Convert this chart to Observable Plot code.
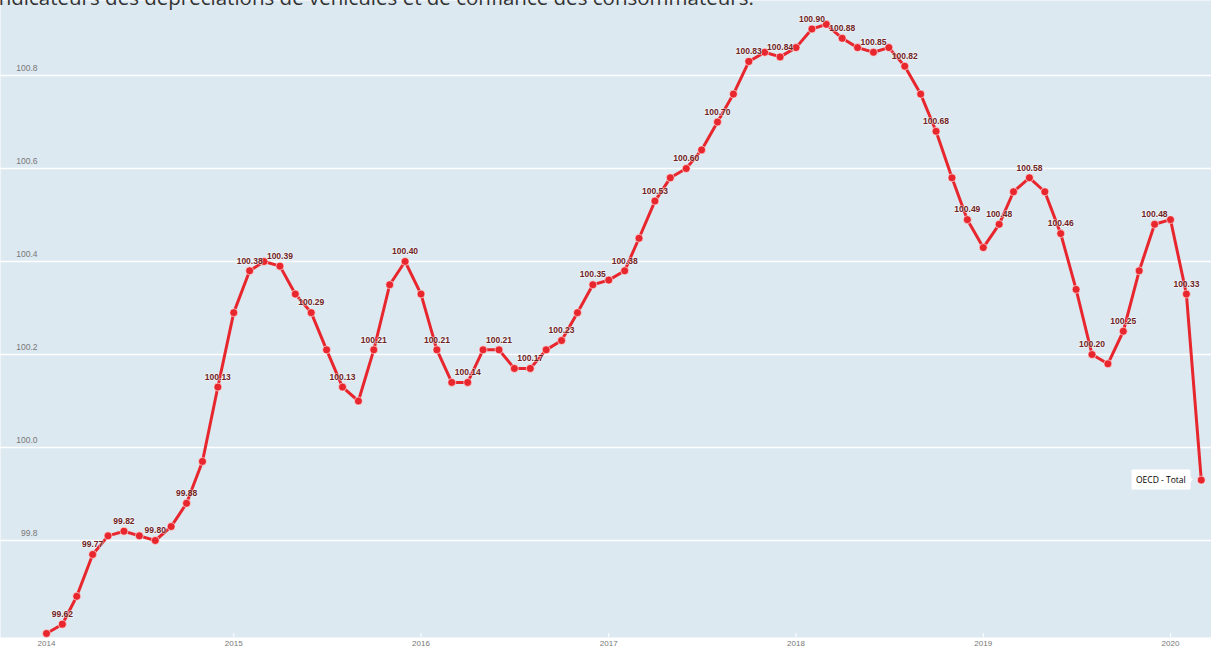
<!DOCTYPE html>
<html>
<head>
<meta charset="utf-8">
<script src="https://cdn.jsdelivr.net/npm/d3@7"></script>
<script src="https://cdn.jsdelivr.net/npm/@observablehq/plot@0.6"></script>
<style>
  html, body { margin: 0; padding: 0; background: #ffffff; overflow: hidden; }
  #wrap { position: relative; width: 1211px; height: 651px; }
  #title { position: absolute; left: -7px; top: -13px; font-family: "Open Sans", sans-serif; font-size: 20.5px; line-height: 20.5px; color: #333333; white-space: nowrap; z-index: 2; }
  #chart { position: absolute; left: 0; top: 0; }
</style>
</head>
<body>
<div id="wrap">
  <div id="title">Indicateurs des dépréciations de véhicules et de confiance des consommateurs.</div>
  <div id="chart"></div>
</div>
<script>
const seriesName = "OECD - Total";
const firstMonth = "2014-01-01";
const values = [
  99.60, 99.62, 99.68, 99.77, 99.81, 99.82, 99.81, 99.80, 99.83, 99.88, 99.97, 100.13,
  100.29, 100.38, 100.40, 100.39, 100.33, 100.29, 100.21, 100.13, 100.10, 100.21, 100.35, 100.40,
  100.33, 100.21, 100.14, 100.14, 100.21, 100.21, 100.17, 100.17, 100.21, 100.23, 100.29, 100.35,
  100.36, 100.38, 100.45, 100.53, 100.58, 100.60, 100.64, 100.70, 100.76, 100.83, 100.85, 100.84,
  100.86, 100.90, 100.91, 100.88, 100.86, 100.85, 100.86, 100.82, 100.76, 100.68, 100.58, 100.49,
  100.43, 100.48, 100.55, 100.58, 100.55, 100.46, 100.34, 100.20, 100.18, 100.25, 100.38, 100.48,
  100.49, 100.33, 99.93
];
const yTicks = [99.8, 100.0, 100.2, 100.4, 100.6, 100.8];
const xTickYears = ["2014", "2015", "2016", "2017", "2018", "2019", "2020"];

const start = new Date(firstMonth);
const data = values.map((v, i) => ({
  date: d3.utcMonth.offset(start, i),
  value: v,
  i
}));
const labelled = data.filter(d => d.i % 2 === 1);
const last = data[data.length - 1];
const yearDates = xTickYears.map(y => new Date(y + "-01-01"));

const red = "#e8262d";

const chart = Plot.plot({
  width: 1211,
  height: 651,
  marginTop: 0,
  marginLeft: 0,
  marginRight: 0,
  marginBottom: 14,
  style: { background: "#ffffff", fontFamily: "'Liberation Sans', Arial, sans-serif" },
  x: { type: "utc", domain: [yearDates[0], yearDates[yearDates.length - 1]], range: [46, 1170] },
  y: { domain: [99.8, 100.8], range: [540, 75] },
  marks: [
    Plot.frame({ fill: "#dde9f1", stroke: null }),
    Plot.gridY(yTicks, { stroke: "#ffffff", strokeOpacity: 1, strokeWidth: 1.5 }),
    Plot.axisY(yTicks, {
      anchor: "left", tickSize: 0, tickFormat: d3.format(".1f"),
      textAnchor: "end", dx: 46, dy: -7, fontSize: 8.5, fill: "#777777", label: null
    }),
    Plot.axisX(yearDates, {
      anchor: "bottom", tickSize: 0, tickPadding: 3, tickFormat: d3.utcFormat("%Y"),
      fontSize: 8, fill: "#777777", label: null,
      fontFamily: "'Liberation Sans Narrow', 'Liberation Sans', sans-serif"
    }),
    Plot.tickX(yearDates, { x: d => d, stroke: "#ffffff", strokeWidth: 1, insetTop: 633 }),
    Plot.line(data, { x: "date", y: "value", stroke: red, strokeWidth: 3 }),
    Plot.dot(data, { x: "date", y: "value", r: 4, fill: red, stroke: "#ffffff", strokeWidth: 0.6 }),
    Plot.text(labelled, {
      x: "date", y: "value", text: d => d.value.toFixed(2), dy: -10,
      fontSize: 8.5, fontWeight: "bold", fill: "#6e2424",
      stroke: "#ffffff", strokeWidth: 1.5, strokeOpacity: 0.55
    }),
    Plot.tip([last], {
      x: "date", y: "value", title: () => seriesName, anchor: "right", dx: -9, dy: -1,
      fontSize: 8.5, textPadding: 4, pointerSize: 5, fill: "#ffffff", stroke: "#ffffff",
      pathFilter: null, fontFamily: "'Open Sans', sans-serif"
    })
  ]
});
document.getElementById("chart").append(chart);
</script>
</body>
</html>
